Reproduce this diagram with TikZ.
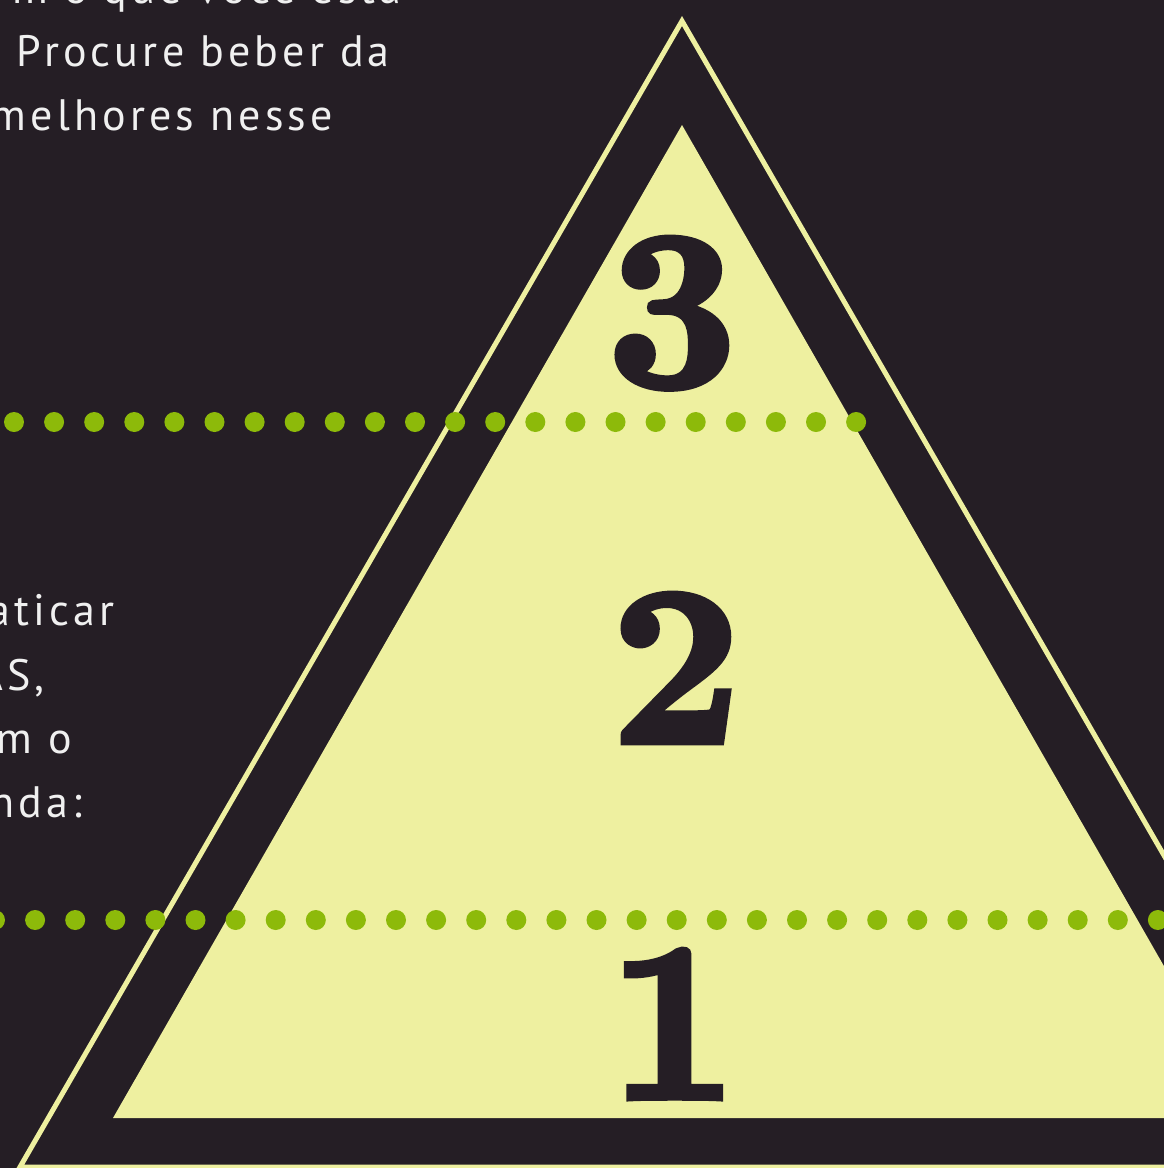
\documentclass[tikz,border=0pt]{standalone}
\usepackage{fontspec}
\setmainfont{PT Sans}
\newfontfamily\bodyfont[LetterSpace=9.5]{PT Sans}
\newfontfamily\digitfont[FakeBold=3]{lmroman10-bold.otf}
\definecolor{bgdark}{HTML}{251E25}
\definecolor{paleyellow}{HTML}{EEF0A0}
\definecolor{dotgreen}{HTML}{8DBA0A}
\definecolor{textwhite}{HTML}{F0F0F0}
\tikzset{
  bodytext/.style={anchor=base east, inner sep=0pt, text=textwhite, font=\bodyfont\fontsize{44}{50}\selectfont},
  digit/.style={anchor=base, inner sep=0pt, text=bgdark, font=\digitfont\fontsize{226}{226}\selectfont},
  dotmark/.style={fill=dotgreen},
  outline/.style={draw=paleyellow, line width=5pt, line join=miter},
  innertri/.style={fill=paleyellow}
}
\begin{document}
\begin{tikzpicture}[x=1pt,y=-1pt]
\useasboundingbox (0,0) rectangle (1164,1168);
\clip (0,0) rectangle (1164,1168);
\fill[bgdark] (0,0) rectangle (1164,1168);
% text fragments
\node[bodytext] (t1) at (402,3) {m o que você está};
\node[bodytext] (t2) at (390,66) {Procure beber da};
\node[bodytext] (t3) at (333,130) {melhores nesse};
\node[bodytext] (m1) at (115,625) {aticar};
\node[bodytext] (m2) at (45,690) {AS,};
\node[bodytext] (m3) at (72,753) {m o};
\node[bodytext] (m4) at (82,817) {nda:};
% outer triangle
\coordinate (oa) at (682,21);
\coordinate (ol) at (20,1167);
\coordinate (or) at (1344,1167);
\draw[outline] (oa) -- (ol) -- (or) -- cycle;
% inner triangle
\coordinate (ia) at (682,125);
\coordinate (il) at (113,1118);
\coordinate (ir) at (1251,1118);
\fill[innertri] (ia) -- (il) -- (ir) -- cycle;
% dotted rows
\foreach \k in {0,...,21} \fill[dotmark] ({14+40.1*\k},422) circle (10);
\foreach \k in {0,...,29} \fill[dotmark] ({-5+40.1*\k},920) circle (10);
% numbers
\node[digit] (n3) at (672,386) {3};
\node[digit] (n2) at (676,742) {2};
\node[digit] (n1) at (673,1098) {1};
\end{tikzpicture}
\end{document}
